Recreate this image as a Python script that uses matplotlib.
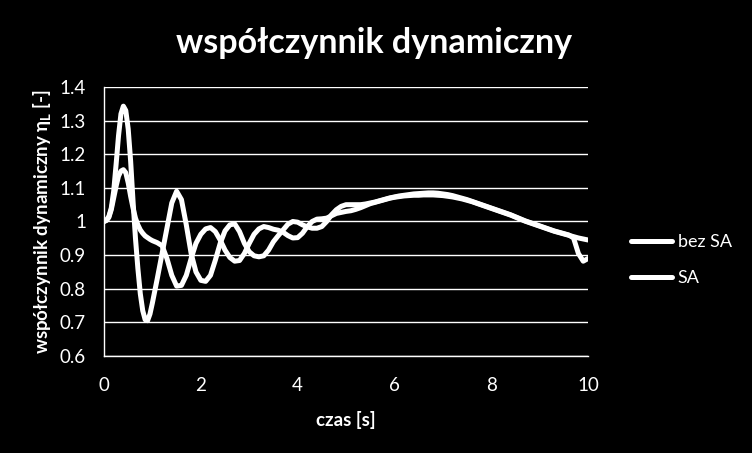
import numpy as np
import matplotlib
matplotlib.use("Agg")
import matplotlib.pyplot as plt

plt.rcParams['font.family'] = ['Lato', 'DejaVu Sans']

# time [s]: 0.05 s steps up to 1 s, then 0.1 s steps
czas = np.concatenate([np.arange(0, 21) * 0.05, 1.0 + np.arange(1, 91) * 0.1])

bez_sa = [
    1.000, 1.004, 1.015, 1.040, 1.090, 1.170, 1.255, 1.320, 1.343, 1.330,
    1.275, 1.180, 1.060, 0.950, 0.860, 0.785, 0.735, 0.708, 0.705, 0.725,
    0.758,
    0.830, 0.905, 0.980, 1.055, 1.090, 1.065, 0.990, 0.905, 0.850, 0.825,
    0.822, 0.840, 0.885, 0.935, 0.972, 0.990, 0.993, 0.970, 0.935, 0.910,
    0.898, 0.895, 0.898, 0.915, 0.940, 0.958, 0.975, 0.992, 1.000, 0.998,
    0.990, 0.984, 0.980, 0.980, 0.985, 1.000, 1.020, 1.035, 1.045, 1.050,
    1.050, 1.050, 1.050, 1.052, 1.055, 1.058, 1.062, 1.066, 1.070, 1.073,
    1.076, 1.078, 1.080, 1.082, 1.083, 1.084, 1.085, 1.085, 1.084, 1.082,
    1.080, 1.077, 1.073, 1.069, 1.065, 1.060, 1.055, 1.050, 1.045, 1.040,
    1.035, 1.030, 1.025, 1.020, 1.014, 1.008, 1.002, 0.997, 0.992, 0.987,
    0.982, 0.977, 0.972, 0.968, 0.964, 0.960, 0.951, 0.905, 0.882, 0.890,
]

sa = [
    1.000, 1.003, 1.012, 1.035, 1.070, 1.105, 1.135, 1.150, 1.154, 1.145,
    1.115, 1.075, 1.040, 1.010, 0.990, 0.975, 0.965, 0.957, 0.952, 0.947,
    0.943,
    0.937, 0.928, 0.890, 0.840, 0.808, 0.810, 0.840, 0.890, 0.935, 0.962,
    0.978, 0.982, 0.970, 0.945, 0.915, 0.893, 0.882, 0.884, 0.905, 0.935,
    0.962, 0.978, 0.985, 0.982, 0.977, 0.974, 0.968, 0.958, 0.951, 0.952,
    0.965, 0.985, 1.000, 1.007, 1.008, 1.010, 1.017, 1.024, 1.027, 1.030,
    1.032, 1.036, 1.041, 1.047, 1.053, 1.057, 1.061, 1.065, 1.069, 1.072,
    1.074, 1.076, 1.077, 1.078, 1.078, 1.079, 1.079, 1.079, 1.078, 1.077,
    1.075, 1.073, 1.070, 1.067, 1.063, 1.059, 1.054, 1.049, 1.044, 1.039,
    1.034, 1.029, 1.024, 1.019, 1.013, 1.007, 1.001, 0.996, 0.991, 0.986,
    0.981, 0.976, 0.971, 0.967, 0.963, 0.959, 0.955, 0.951, 0.948, 0.945,
]

series_names = ['bez SA', 'SA']
x_ticks = [0, 2, 4, 6, 8, 10]
y_ticks = [0.6, 0.7, 0.8, 0.9, 1.0, 1.1, 1.2, 1.3, 1.4]
y_tick_labels = ['0.6', '0.7', '0.8', '0.9', '1', '1.1', '1.2', '1.3', '1.4']

fig = plt.figure(figsize=(7.52, 4.53), dpi=100, facecolor='black')
ax = fig.add_axes([0.1383, 0.2141, 0.6437, 0.5939], facecolor='black')

for vals, name in zip([bez_sa, sa], series_names):
    ax.plot(czas, vals, color='white', linewidth=3.6, label=name,
            solid_capstyle='round', solid_joinstyle='round')

ax.set_xlim(0, 10)
ax.set_ylim(0.6, 1.4)
ax.set_xticks(x_ticks)
ax.set_yticks(y_ticks)
ax.set_yticklabels(y_tick_labels)
ax.grid(True, axis='y', color='white', linewidth=1.0)
ax.set_axisbelow(True)

for side in ['top', 'right']:
    ax.spines[side].set_visible(False)
for side in ['left', 'bottom']:
    ax.spines[side].set_color('white')
    ax.spines[side].set_linewidth(1.0)

ax.tick_params(axis='both', colors='white', length=0, labelsize=13.5)
ax.tick_params(axis='y', pad=13)
ax.tick_params(axis='x', pad=15)

ax.set_xlabel('czas [s]', color='white', fontsize=13.5, fontweight='bold', labelpad=12)
ax.set_ylabel('współczynnik dynamiczny η$_\\mathregular{L}$ [-]', color='white',
              fontsize=13.5, fontweight='bold', labelpad=4)

fig.text(0.498, 0.905, 'współczynnik dynamiczny', color='white', fontsize=24.5,
         fontweight='bold', ha='center', va='center')

leg = ax.legend(loc='center left', bbox_to_anchor=(0.827, 0.426),
                bbox_transform=fig.transFigure, frameon=False, fontsize=13,
                handlelength=2.3, handletextpad=0.3, labelspacing=1.1,
                borderpad=0)
for text in leg.get_texts():
    text.set_color('white')

plt.savefig('out.png', dpi=100, facecolor='black')
